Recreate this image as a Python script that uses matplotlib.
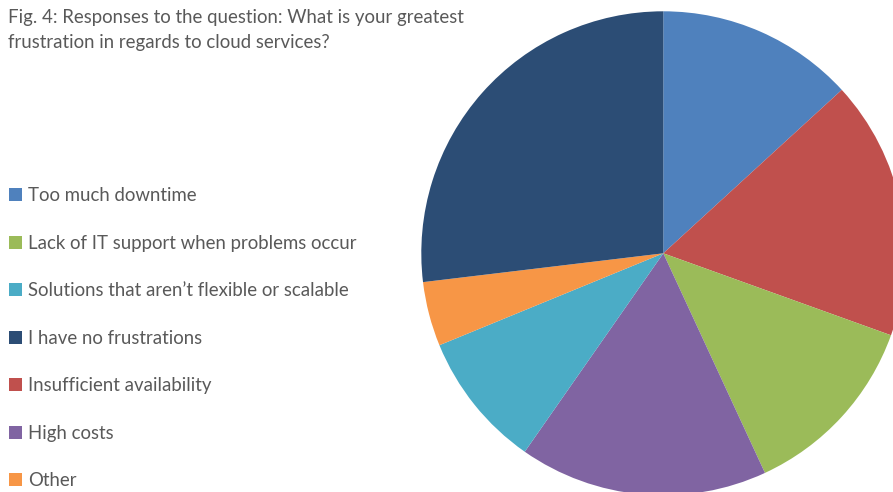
import matplotlib.pyplot as plt

# Slices in clockwise order starting at 12 o'clock
labels = ["Too much downtime", "Insufficient availability",
          "Lack of IT support when problems occur", "High costs",
          "Solutions that aren\u2019t flexible or scalable", "Other",
          "I have no frustrations"]
shares = [13.2, 17.3, 12.6, 16.6, 9.1, 4.3, 26.9]
colors = ["#4F81BD", "#C0504D", "#9BBB59", "#8064A2",
          "#4BACC6", "#F79646", "#2C4D75"]

# Order used by the legend
legend_order = ["Too much downtime", "Lack of IT support when problems occur",
                "Solutions that aren\u2019t flexible or scalable",
                "I have no frustrations", "Insufficient availability",
                "High costs", "Other"]

plt.rcParams['font.family'] = ['Lato', 'DejaVu Sans']
W, H = 893, 492
fig = plt.figure(figsize=(W / 100, H / 100), dpi=100)

# pie centred at (663, 253) px with radius 242 px
cx, cy, r = 663.3, 253.3, 242
ax = fig.add_axes([(cx - r) / W, (H - cy - r) / H, 2 * r / W, 2 * r / H])
wedges, _ = ax.pie(shares, colors=colors, startangle=90, counterclock=False,
                   wedgeprops=dict(linewidth=0))
ax.set_xlim(-1, 1)
ax.set_ylim(-1, 1)
ax.set_axis_off()

fig.text(8 / W, 1 - 9 / H,
         "Fig. 4: Responses to the question: What is your greatest\n"
         "frustration in regards to cloud services?",
         ha='left', va='top', fontsize=13.4, color='#595959', linespacing=1.58)

handles = [wedges[labels.index(l)] for l in legend_order]
leg = fig.legend(handles, legend_order, loc='upper left',
                 bbox_to_anchor=(-4 / W, 1 - 174 / H), frameon=False,
                 fontsize=13.4, labelcolor='#595959', handlelength=0.68,
                 handleheight=0.7, handletextpad=0.32, labelspacing=1.64,
                 borderpad=0.2)

fig.savefig("out.png", dpi=100)
